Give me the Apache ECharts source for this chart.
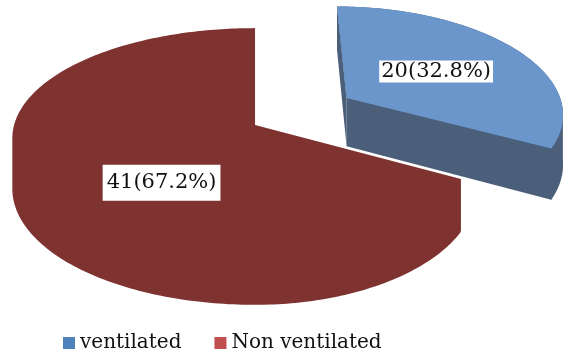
<!DOCTYPE html>
<html><head><meta charset="utf-8">
<script src="https://cdn.jsdelivr.net/npm/echarts@6/dist/echarts.min.js"></script>
<style>html,body{margin:0;padding:0;background:#fff}#c{width:563px;height:351px}</style>
</head><body><div id="c"></div>
<script>
// ---- data ----
const categories = ['ventilated', 'Non ventilated'];
const counts = [20, 41];

// ---- styles ----
const legendColors = ['#4F81BD', '#C0504D'];
const topColors = ['#6A96CB', '#7E3331'];
const sideColors = ['#4B5E7A', '#7E3331'];
const explode = [0.5, 0];
const labelRadius = [0.52, 0.62];
const labelAngleShift = [0, -23];
const labelPadding = [[1, 2], [8, 4]];

const total = counts.reduce((a, b) => a + b, 0);
const starts = [];
let acc = 0;
counts.forEach(v => { starts.push(acc / total * 360); acc += v; });

const rad = d => d * Math.PI / 180;
const PERSP = 0.12;
const TANGENT = Math.asin(PERSP) * 180 / Math.PI;
function makeProj(W, H) {
  const CX = 0.453 * W, CY = 0.356 * H, RXL = 0.428 * W, RXR = 0.391 * W,
        RY = 0.309 * H, HH = 0.142 * H;
  return function (X, Z, h) {
    const w = 1 / (1 + PERSP * Z);
    const rx = X < 0 ? RXL : RXR;
    return [CX + rx * X * w, CY - (RY * Z + HH * h) * w];
  };
}

function renderSlice(i) {
  return function (params, api) {
    const P = makeProj(api.getWidth(), api.getHeight());
    const v = api.value(0);
    const a0 = starts[i], a1 = a0 + v / total * 360;
    const b = (a0 + a1) / 2;
    const ox = explode[i] * Math.sin(rad(b)), oz = explode[i] * Math.cos(rad(b));
    const rim = (t, h) => P(ox + Math.sin(rad(t)), oz + Math.cos(rad(t)), h);
    const arc = (t0, t1, h) => {
      const pts = [];
      const n = Math.max(2, Math.ceil(Math.abs(t1 - t0)));
      for (let k = 0; k <= n; k++) pts.push(rim(t0 + (t1 - t0) * k / n, h));
      return pts;
    };
    const children = [];
    const side = sideColors[i], top = topColors[i];
    const st = c => ({ fill: c });
    // cut faces
    [a0, a1].forEach(t => {
      children.push({ type: 'polygon', shape: { points: [P(ox, oz, 0), rim(t, 0), rim(t, -1), P(ox, oz, -1)] },
        style: st(side) });
    });
    // side silhouette (top outline with the front wall dropped down)
    const w0 = Math.max(a0, 90 + TANGENT), w1 = Math.min(a1, 270 - TANGENT);
    let sil = [P(ox, oz, 0)];
    if (w1 > w0) {
      if (w0 > a0) sil = sil.concat(arc(a0, w0, 0));
      sil = sil.concat(arc(w0, w1, -1));
      if (a1 > w1) sil = sil.concat(arc(w1, a1, 0));
    } else {
      sil = sil.concat(arc(a0, a1, 0));
    }
    children.push({ type: 'polygon', shape: { points: sil }, style: st(side) });
    // top surface
    if (top !== side) {
      children.push({ type: 'polygon', shape: { points: [P(ox, oz, 0)].concat(arc(a0, a1, 0)) },
        style: st(top) });
    }
    const la = b + labelAngleShift[i], lr = labelRadius[i];
    const lp = P(ox + lr * Math.sin(rad(la)), oz + lr * Math.cos(rad(la)), 0);
    const pct = (v / total * 100).toFixed(1);
    children.push({ type: 'text', x: lp[0], y: lp[1],
      style: { text: v + '(' + pct + '%)', fontSize: 21, fontFamily: 'DejaVu Serif', fill: '#111',
        align: 'center', verticalAlign: 'middle', textAlign: 'center', textVerticalAlign: 'middle',
        backgroundColor: '#fff', padding: labelPadding[i], lineHeight: 20 } });
    return { type: 'group', children };
  };
}

const chart = echarts.init(document.getElementById('c'), null, { renderer: 'canvas' });
chart.setOption({
  animation: false,
  legend: {
    data: categories, icon: 'rect', itemWidth: 12, itemHeight: 12, left: 58, top: 328, itemGap: 33,
    textStyle: { fontFamily: 'DejaVu Serif', fontSize: 20, color: '#111' }
  },
  series: categories.map((name, i) => ({
    type: 'custom', name, coordinateSystem: 'none', z: 2 + i,
    itemStyle: { color: legendColors[i] },
    data: [[counts[i]]],
    renderItem: renderSlice(i)
  }))
});
</script></body></html>
